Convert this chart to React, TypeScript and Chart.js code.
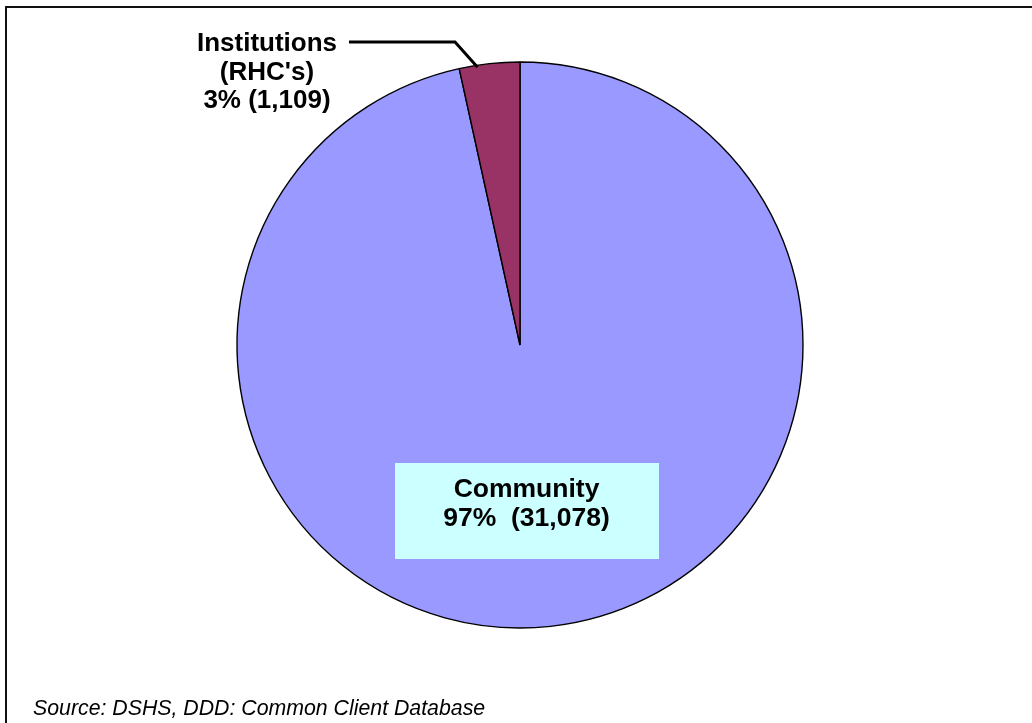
import React, { useEffect, useRef } from "react";
import { Chart, registerables } from "chart.js";

Chart.register(...registerables);

const categories = ["Community", "Institutions (RHC's)"];
const clientCounts = [31078, 1109];
const percentLabels = ["97%", "3%"];
const countLabels = ["31,078", "1,109"];
const sliceColors = ["#9999FF", "#993366"];
const sourceNote = "Source: DSHS, DDD: Common Client Database";

const FONT = "'Liberation Sans', Arial, Helvetica, sans-serif";

const labelPlugin = {
  id: "pieLabels",
  afterDatasetsDraw(chart: any) {
    const ctx = chart.ctx;
    const meta = chart.getDatasetMeta(0);
    const comm = meta.data[0];
    const inst = meta.data[1];
    if (!comm || !inst) return;
    const cx = comm.x;
    const cy = comm.y;
    const r = comm.outerRadius;

    ctx.save();
    // Community label box
    const bx = cx - 125;
    const by = cy + 118;
    ctx.fillStyle = "#CCFFFF";
    ctx.fillRect(bx, by, 264, 96);
    ctx.fillStyle = "#000";
    ctx.font = `bold 26.5px ${FONT}`;
    ctx.textAlign = "center";
    ctx.textBaseline = "alphabetic";
    ctx.fillText(categories[0], cx + 6.5, cy + 152);
    ctx.fillText(`${percentLabels[0]}  (${countLabels[0]})`, cx + 6.5, cy + 181);

    // Institutions leader line
    const a = inst.startAngle + (inst.endAngle - inst.startAngle) * 0.3;
    const ex = cx + Math.cos(a) * (r - 2);
    const ey = cy + Math.sin(a) * (r - 2);
    const elbowX = cx - 65;
    const elbowY = cy - 303;
    ctx.strokeStyle = "#000";
    ctx.lineWidth = 3;
    ctx.lineJoin = "miter";
    ctx.beginPath();
    ctx.moveTo(ex, ey);
    ctx.lineTo(elbowX, elbowY);
    ctx.lineTo(cx - 171, elbowY);
    ctx.stroke();

    // Institutions text
    ctx.font = `bold 26px ${FONT}`;
    const tx = cx - 253;
    ctx.fillText("Institutions", tx, cy - 294);
    ctx.fillText("(RHC's)", tx, cy - 265);
    ctx.fillText(`${percentLabels[1]} (${countLabels[1]})`, tx, cy - 237);

    // Source note
    ctx.textAlign = "left";
    ctx.font = `italic 21.3px ${FONT}`;
    ctx.fillText(sourceNote, 33, 715);
    ctx.restore();
  },
};

export default function App() {
  const canvasRef = useRef<HTMLCanvasElement | null>(null);

  useEffect(() => {
    document.body.style.margin = "0";
    document.body.style.overflow = "hidden";
    const canvas = canvasRef.current;
    if (!canvas) return;
    const chart = new Chart(canvas, {
      type: "pie",
      data: {
        labels: categories,
        datasets: [
          {
            data: clientCounts,
            backgroundColor: sliceColors,
            borderColor: "#000",
            borderWidth: 1.4,
            hoverOffset: 0,
            radius: 283,
          } as any,
        ],
      },
      options: {
        responsive: false,
        maintainAspectRatio: false,
        animation: false,
        layout: { padding: { left: 100, right: 92, top: 50, bottom: 83 } },
        plugins: {
          legend: { display: false },
          tooltip: { enabled: false },
          title: { display: false },
        },
        events: [],
      },
      plugins: [labelPlugin],
    });
    return () => chart.destroy();
  }, []);

  return (
    <div
      style={{
        position: "absolute",
        left: 0,
        top: 0,
        width: 1032,
        height: 723,
        overflow: "hidden",
        background: "#fff",
      }}
    >
      <div
        style={{
          position: "absolute",
          left: 5,
          top: 6,
          width: 1100,
          height: 800,
          border: "2px solid #111",
          boxSizing: "border-box",
        }}
      />
      <canvas
        ref={canvasRef}
        width={1032}
        height={723}
        style={{ position: "absolute", left: 0, top: 0, width: 1032, height: 723 }}
      />
    </div>
  );
}
